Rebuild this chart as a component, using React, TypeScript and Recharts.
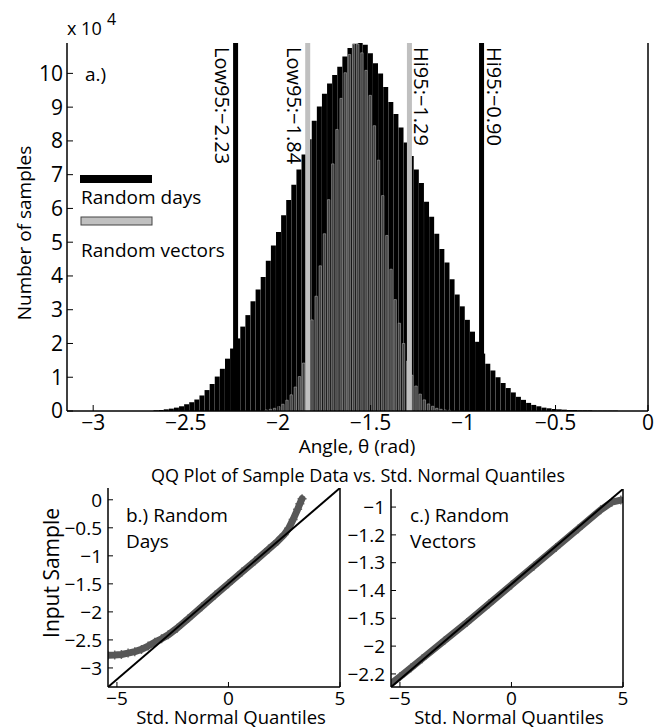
import React from 'react';
import { ComposedChart, Bar, Line, XAxis, YAxis, ReferenceLine } from 'recharts';

const FONT = '"Open Sans", "Noto Sans", "DejaVu Sans", sans-serif';

// Histogram of angles, random days: first bin centre / bin width (rad), counts in 1e4
const daysBinStart = -2.66;
const daysBinWidth = 0.0276;
const daysCounts = [
  0.02, 0.03, 0.05, 0.07, 0.1, 0.14, 0.2, 0.26, 0.34, 0.46,
  0.62, 0.8, 1.02, 1.25, 1.55, 1.85, 2.15, 2.5, 2.84, 3.25,
  3.6, 3.97, 4.45, 4.9, 5.3, 5.8, 6.25, 6.7, 7.15, 7.6,
  8.05, 8.6, 9.02, 9.4, 9.7, 9.95, 10.2, 10.5, 10.75, 10.88,
  10.9, 10.85, 10.6, 10.3, 10.0, 9.6, 9.15, 8.8, 8.4, 7.95,
  7.55, 7.15, 6.75, 6.2, 5.75, 5.25, 4.8, 4.4, 3.9, 3.45,
  3.1, 2.7, 2.35, 2.05, 1.7, 1.4, 1.2, 1.0, 0.83, 0.68,
  0.55, 0.42, 0.33, 0.24, 0.18, 0.14, 0.1, 0.08, 0.06, 0.05,
  0.04, 0.03, 0.03, 0.02, 0.02, 0.02, 0.01, 0.01, 0.01, 0.01, 0.01,
];

// Histogram of angles, random vectors
const vectorsBinStart = -2.065;
const vectorsBinWidth = 0.0225;
const vectorsCounts = [
  0.03, 0.05, 0.08, 0.13, 0.2, 0.32, 0.48, 0.71, 1.02, 1.42,
  1.95, 2.7, 3.4, 4.3, 5.25, 6.26, 7.32, 8.34, 9.26, 10.02,
  10.56, 10.86, 10.87, 10.61, 10.09, 9.35, 8.45, 7.43, 6.38, 5.2,
  4.2, 3.3, 2.6, 2.0, 1.48, 1.06, 0.74, 0.5, 0.33, 0.21,
  0.14, 0.08, 0.05, 0.03, 0.02,
];

const angleTicks = [-3, -2.5, -2, -1.5, -1, -0.5, 0];
const countTicks = [0, 1, 2, 3, 4, 5, 6, 7, 8, 9, 10];

// 95% bounds of each distribution
const boundNames = ['Low95', 'Low95', 'Hi95', 'Hi95'];
const boundValues = [-2.23, -1.84, -1.29, -0.9];
const boundColors = ['#000', '#c0c0c0', '#c0c0c0', '#000'];

// QQ plot, random days
const daysQuantiles = [
  -5.4, -5.1, -4.8, -4.5, -4.2, -3.9, -3.6, -3.3, -3.0, -2.7, -2.3, -1.8, -1.2,
  -0.6, 0, 0.6, 1.2, 1.8, 2.2, 2.5, 2.7, 2.9, 3.1, 3.2, 3.3,
];
const daysSample = [
  -2.775, -2.77, -2.76, -2.735, -2.71, -2.67, -2.61, -2.54, -2.48, -2.41, -2.29, -2.12, -1.91,
  -1.7, -1.497, -1.29, -1.09, -0.88, -0.74, -0.62, -0.51, -0.35, -0.17, -0.07, 0.02,
];
const daysFitQ = [-5.4, 5];
const daysFitV = [-3.34, 0.21];

// QQ plot, random vectors
const vectorsQuantiles = [-5.4, -5.0, -4.5, -4.0, -3.0, -2.0, -1.0, 0, 1.0, 2.0, 3.0, 4.0, 4.5, 4.9];
const vectorsSample = [
  -2.27, -2.22, -2.155, -2.09, -1.96, -1.83, -1.695, -1.56, -1.425, -1.29, -1.155, -1.02, -0.965, -0.95,
];
const vectorsFitQ = [-5.4, 5];
const vectorsFitV = [-2.294, -0.87];

const quantileTicks = [-5, 0, 5];
const daysSampleTicks = [0, -0.5, -1, -1.5, -2, -2.5, -3];
const vectorsSampleTicks = [-1, -1.2, -1.4, -1.6, -1.8, -2, -2.2];
const vectorsSampleLabels = ['\u22121', '\u22121.2', '\u22121.3', '\u22121.4', '\u22121.5', '\u22122', '\u22122.2'];

const daysRows = daysCounts.map((n, i) => ({ angle: daysBinStart + i * daysBinWidth, n }));
const vectorsRows = vectorsCounts.map((n, i) => ({ angle: vectorsBinStart + i * vectorsBinWidth, n }));
const daysQQ = daysQuantiles.map((q, i) => ({ q, v: daysSample[i] }));
const vectorsQQ = vectorsQuantiles.map((q, i) => ({ q, v: vectorsSample[i] }));
const daysFit = daysFitQ.map((q, i) => ({ q, fit: daysFitV[i] }));
const vectorsFit = vectorsFitQ.map((q, i) => ({ q, fit: vectorsFitV[i] }));

const minus = (s: string) => s.replace('-', '\u2212');
const fmt = (v: number) => minus(String(v));

const W = 657;
const TOP_H = 460;
const QQ_TOP = 470;
const QQ_H = 258;
const QQ_AXIS_H = 41;
const ANGLE_DOMAIN: [number, number] = [-Math.PI, 0];
const COUNT_DOMAIN: [number, number] = [0, 10.9];
const QUANTILE_DOMAIN: [number, number] = [-5.4, 5];

const axisLine = { stroke: '#000', strokeWidth: 1.5 };
const tickLine = { stroke: '#000', strokeWidth: 1 };
const tickFont = (size: number) => ({ fill: '#000', fontSize: size, fontFamily: FONT });

function BoundLabel(props: any) {
  const { viewBox, text, dx } = props;
  if (!viewBox) return null;
  return (
    <text
      transform={`translate(${viewBox.x + dx},${viewBox.y + 4}) rotate(90)`}
      fontSize={20}
      fontFamily={FONT}
      fill="#000"
    >
      {text}
    </text>
  );
}

// '+' marker of the sample quantiles
function Plus(props: any) {
  const { cx, cy } = props;
  if (cx == null || cy == null) return null;
  return <path d={`M${cx - 4.5},${cy}h9M${cx},${cy - 4.5}v9`} stroke="#6e6e6e" strokeWidth={1.5} fill="none" />;
}

function Histogram() {
  return (
    <>
      <div style={{ position: 'absolute', left: 0, top: 0 }}>
        <ComposedChart
          width={W}
          height={TOP_H}
          data={daysRows}
          margin={{ top: 43, right: 9, bottom: 49, left: 67 }}
          barCategoryGap={0}
          barGap={0}
        >
          <XAxis dataKey="angle" type="number" domain={ANGLE_DOMAIN} allowDataOverflow hide />
          <YAxis type="number" domain={COUNT_DOMAIN} allowDataOverflow hide />
          <Bar dataKey="n" fill="#000" isAnimationActive={false} />
        </ComposedChart>
      </div>
      <div style={{ position: 'absolute', left: 0, top: 0 }}>
        <ComposedChart width={W} height={TOP_H} data={vectorsRows} margin={{ top: 43, right: 0, bottom: 0, left: 0 }}>
          <XAxis
            dataKey="angle"
            type="number"
            domain={ANGLE_DOMAIN}
            allowDataOverflow
            ticks={angleTicks}
            interval={0}
            tickFormatter={fmt}
            height={49}
            tickSize={-6}
            tickMargin={10}
            axisLine={axisLine}
            tickLine={tickLine}
            tick={tickFont(21)}
          />
          <XAxis
            xAxisId="top"
            orientation="top"
            type="number"
            domain={ANGLE_DOMAIN}
            allowDataOverflow
            ticks={angleTicks}
            interval={0}
            height={0}
            tickSize={-6}
            axisLine={axisLine}
            tickLine={tickLine}
            tick={false}
          />
          <YAxis
            type="number"
            domain={COUNT_DOMAIN}
            allowDataOverflow
            ticks={countTicks}
            interval={0}
            width={67}
            tickSize={-6}
            tickMargin={10}
            axisLine={axisLine}
            tickLine={tickLine}
            tick={tickFont(21)}
          />
          <YAxis
            yAxisId="right"
            orientation="right"
            type="number"
            domain={COUNT_DOMAIN}
            allowDataOverflow
            ticks={countTicks}
            interval={0}
            width={9}
            tickSize={-6}
            axisLine={axisLine}
            tickLine={tickLine}
            tick={false}
          />
          <Bar
            dataKey="n"
            fill="#404040"
            stroke="#a8a8a8"
            strokeWidth={0.6}
            barSize={2.4}
            isAnimationActive={false}
          />
          {boundValues.map((v, i) => (
            <ReferenceLine
              key={i}
              x={v}
              stroke={boundColors[i]}
              strokeWidth={5}
              label={<BoundLabel text={`${boundNames[i]}:${minus(v.toFixed(2))}`} dx={i < 2 ? -20.5 : 5} />}
            />
          ))}
        </ComposedChart>
      </div>
    </>
  );
}

interface QQProps {
  rows: { q: number; v: number }[];
  fit: { q: number; fit: number }[];
  yDomain: [number, number];
  yTicks: number[];
  yFormat: (v: number, i: number) => string;
  left: number;
  width: number;
  yAxisWidth: number;
  rightWidth: number;
  marginTop: number;
}

function QQPanel(p: QQProps) {
  return (
    <>
      {/* '+' markers sit beneath the band, showing only where they stick out */}
      <div style={{ position: 'absolute', left: p.left, top: QQ_TOP }}>
        <ComposedChart
          width={p.width}
          height={QQ_H}
          data={p.rows}
          margin={{ top: p.marginTop, right: p.rightWidth, bottom: QQ_AXIS_H, left: p.yAxisWidth }}
        >
          <XAxis dataKey="q" type="number" domain={QUANTILE_DOMAIN} allowDataOverflow hide />
          <YAxis type="number" domain={p.yDomain} allowDataOverflow hide />
          <Line dataKey="v" stroke="none" dot={<Plus />} isAnimationActive={false} />
        </ComposedChart>
      </div>
      <div style={{ position: 'absolute', left: p.left, top: QQ_TOP }}>
        <ComposedChart width={p.width} height={QQ_H} data={p.rows} margin={{ top: p.marginTop, right: 0, bottom: 0, left: 0 }}>
          <XAxis
            dataKey="q"
            type="number"
            domain={QUANTILE_DOMAIN}
            allowDataOverflow
            ticks={quantileTicks}
            interval={0}
            tickFormatter={fmt}
            height={QQ_AXIS_H}
            tickSize={-5}
            tickMargin={10}
            axisLine={axisLine}
            tickLine={tickLine}
            tick={tickFont(19)}
          />
          <XAxis
            xAxisId="top"
            orientation="top"
            type="number"
            domain={QUANTILE_DOMAIN}
            allowDataOverflow
            ticks={quantileTicks}
            interval={0}
            height={0}
            tickSize={-5}
            axisLine={axisLine}
            tickLine={tickLine}
            tick={false}
          />
          <YAxis
            type="number"
            domain={p.yDomain}
            allowDataOverflow
            ticks={p.yTicks}
            interval={0}
            tickFormatter={p.yFormat}
            width={p.yAxisWidth}
            tickSize={-5}
            tickMargin={11}
            axisLine={axisLine}
            tickLine={tickLine}
            tick={tickFont(19)}
          />
          <YAxis
            yAxisId="right"
            orientation="right"
            type="number"
            domain={p.yDomain}
            allowDataOverflow
            ticks={p.yTicks}
            interval={0}
            width={p.rightWidth}
            tickSize={-5}
            axisLine={axisLine}
            tickLine={tickLine}
            tick={false}
          />
          <Line
            dataKey="v"
            stroke="#575757"
            strokeWidth={7}
            strokeLinecap="round"
            strokeLinejoin="round"
            dot={false}
            isAnimationActive={false}
          />
          {/* reference line through the quartiles */}
          <Line data={p.fit} dataKey="fit" stroke="#000" strokeWidth={2} dot={false} isAnimationActive={false} />
        </ComposedChart>
      </div>
    </>
  );
}

export default function App() {
  const text = { fontFamily: FONT, fill: '#000' };
  return (
    <div style={{ position: 'absolute', left: 0, top: 0, width: W, height: 728, background: '#fff', overflow: 'hidden' }}>
      <Histogram />
      <QQPanel
        rows={daysQQ}
        fit={daysFit}
        yDomain={[-3.34, 0.21]}
        yTicks={daysSampleTicks}
        yFormat={fmt}
        left={0}
        width={350}
        yAxisWidth={108}
        rightWidth={10}
        marginTop={18}
      />
      <QQPanel
        rows={vectorsQQ}
        fit={vectorsFit}
        yDomain={[-2.294, -0.87]}
        yTicks={vectorsSampleTicks}
        yFormat={(_v, i) => vectorsSampleLabels[i]}
        left={340}
        width={317}
        yAxisWidth={51}
        rightWidth={34}
        marginTop={19}
      />
      <svg width={W} height={728} style={{ position: 'absolute', left: 0, top: 0, pointerEvents: 'none' }}>
        <text x={67} y={35} fontSize={18} {...text}>x 10</text>
        <text x={107} y={25} fontSize={16} {...text}>4</text>
        <text x={85} y={81} fontSize={19} {...text}>a.)</text>
        <rect x={80} y={175} width={72} height={8} fill="#000" />
        <text x={81} y={204} fontSize={19} {...text}>Random days</text>
        <rect x={81} y={217} width={71} height={8} fill="#c0c0c0" stroke="#444" strokeWidth={1} />
        <text x={81} y={257} fontSize={19} {...text}>Random vectors</text>
        <text transform="translate(31,233) rotate(-90)" textAnchor="middle" fontSize={19} {...text}>
          Number of samples
        </text>
        <text x={357} y={453} textAnchor="middle" fontSize={19} {...text}>Angle, θ (rad)</text>
        <text x={358} y={482} textAnchor="middle" fontSize={18} {...text}>
          QQ Plot of Sample Data vs. Std. Normal Quantiles
        </text>
        <text transform="translate(59,573) rotate(-90)" textAnchor="middle" fontSize={21} {...text}>
          Input Sample
        </text>
        <text x={126} y={522} fontSize={19} {...text}>b.) Random</text>
        <text x={126} y={548} fontSize={19} {...text}>Days</text>
        <text x={410} y={522} fontSize={19} {...text}>c.) Random</text>
        <text x={410} y={548} fontSize={19} {...text}>Vectors</text>
        <text x={231} y={724} textAnchor="middle" fontSize={18.5} {...text}>Std. Normal Quantiles</text>
        <text x={509} y={724} textAnchor="middle" fontSize={18.5} {...text}>Std. Normal Quantiles</text>
      </svg>
    </div>
  );
}
